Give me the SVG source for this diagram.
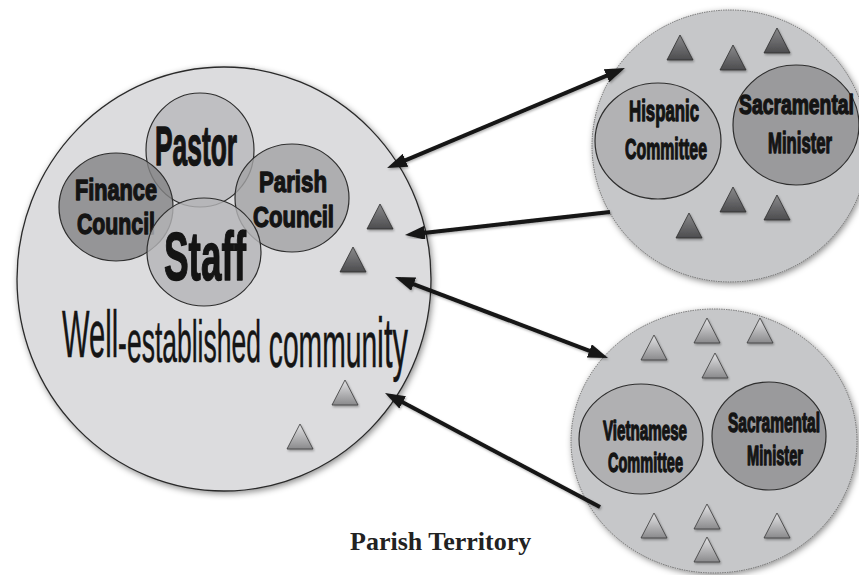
<svg xmlns="http://www.w3.org/2000/svg" xmlns:xlink="http://www.w3.org/1999/xlink" width="859" height="575" viewBox="0 0 859 575">
  <defs>
    <style>
      .bg { fill: #ffffff; }
      .community { fill: #dcdcde; stroke: #2a2a2a; stroke-width: 1.3; filter: url(#soft); }
      .group { fill: #c6c7c9; stroke: #6a6a6a; stroke-width: 1; stroke-dasharray: 1.4 1; filter: url(#soft); }
      .inner { stroke: #2e2e2e; stroke-width: 1.2; }
      .lbl { font-family: "Liberation Sans Narrow", "Liberation Sans", Arial, sans-serif; font-weight: bold; fill: #141414; stroke: #141414; stroke-width: 1.4; stroke-linejoin: round; }
      .big { font-family: "Liberation Sans Narrow", "Liberation Sans", Arial, sans-serif; fill: #151515; stroke: #151515; stroke-width: 0.5; }
      .title { font-family: "Liberation Serif", "Times New Roman", serif; font-weight: bold; font-size: 26px; fill: #222222; }
      .tri-dark { fill: url(#gDark); stroke: #2e2e2e; stroke-width: 0.8; filter: url(#triShadow); }
      .tri-light { fill: url(#gLight); stroke: #3a3a3a; stroke-width: 0.8; filter: url(#triShadow); }
      .arrow { stroke: #141414; stroke-width: 4; fill: none; filter: url(#arrowShadow); }
    </style>
    <filter id="soft" x="-10%" y="-10%" width="120%" height="120%">
      <feDropShadow dx="1.5" dy="2" stdDeviation="3" flood-color="#000" flood-opacity="0.45"/>
    </filter>
    <filter id="triShadow" x="-30%" y="-30%" width="160%" height="160%">
      <feDropShadow dx="1" dy="1.5" stdDeviation="1.2" flood-color="#000" flood-opacity="0.35"/>
    </filter>
    <filter id="arrowShadow" x="-10%" y="-20%" width="120%" height="140%">
      <feDropShadow dx="1" dy="1.5" stdDeviation="1.3" flood-color="#000" flood-opacity="0.3"/>
    </filter>
    <linearGradient id="gDark" x1="0" y1="0" x2="0" y2="1">
      <stop offset="0" stop-color="#8a8a8c"/>
      <stop offset="1" stop-color="#4c4c4e"/>
    </linearGradient>
    <linearGradient id="gLight" x1="0" y1="0" x2="0" y2="1">
      <stop offset="0" stop-color="#e4e4e6"/>
      <stop offset="1" stop-color="#8a8a8c"/>
    </linearGradient>
    <path id="tri" d="M13,0 L26,25 L0,25 Z"/>
    <marker id="head" viewBox="0 0 20 14" markerWidth="20" markerHeight="14" refX="8" refY="7" orient="auto-start-reverse" markerUnits="userSpaceOnUse">
      <path d="M0,0 L20,7 L0,14 Z" fill="#141414"/>
    </marker>
  </defs>

  <rect class="bg" x="0" y="0" width="859" height="575"/>

  <!-- established community -->
  <g id="community">
    <ellipse class="community" cx="224" cy="279" rx="207" ry="212"/>
    <text class="big" x="62" y="357" textLength="346" lengthAdjust="spacingAndGlyphs"><tspan font-size="66">Well</tspan><tspan font-size="60" y="362">-established</tspan><tspan font-size="64" y="367"> commun</tspan><tspan font-size="70" y="367">ity</tspan></text>
  </g>

  <g id="pastor">
    <ellipse class="inner" cx="200" cy="150" rx="54" ry="57" fill="#b8b8ba" fill-opacity="0.8"/>
    <text class="lbl" x="155" y="165" font-size="55" textLength="82" lengthAdjust="spacingAndGlyphs">Pastor</text>
  </g>

  <g id="finance-council">
    <ellipse class="inner" cx="116" cy="207" rx="57" ry="54" fill="#838385" fill-opacity="0.8"/>
    <text class="lbl" x="75" y="200" font-size="29" textLength="82" lengthAdjust="spacingAndGlyphs">Finance</text>
    <text class="lbl" x="77" y="234" font-size="30" textLength="78" lengthAdjust="spacingAndGlyphs">Council</text>
  </g>

  <g id="parish-council">
    <ellipse class="inner" cx="292" cy="198" rx="57" ry="54" fill="#a2a2a4" fill-opacity="0.8"/>
    <text class="lbl" x="259" y="192" font-size="30" textLength="68" lengthAdjust="spacingAndGlyphs">Parish</text>
    <text class="lbl" x="253" y="227" font-size="30" textLength="81" lengthAdjust="spacingAndGlyphs">Council</text>
  </g>

  <g id="staff">
    <ellipse class="inner" cx="204" cy="252" rx="57" ry="54" fill="#b4b4b6" fill-opacity="0.8"/>
    <text class="lbl" x="164" y="280" font-size="68" textLength="82" lengthAdjust="spacingAndGlyphs">Staff</text>
  </g>

  <!-- Hispanic community -->
  <g id="hispanic-community">
    <ellipse class="group" cx="730" cy="146" rx="138" ry="136"/>
  </g>

  <g id="hispanic-committee">
    <ellipse class="inner" cx="658" cy="141" rx="63" ry="58" fill="#b2b2b4"/>
    <text class="lbl" x="629" y="121" font-size="30" textLength="70" lengthAdjust="spacingAndGlyphs">Hispanic</text>
    <text class="lbl" x="625" y="159" font-size="30" textLength="82" lengthAdjust="spacingAndGlyphs">Committee</text>
  </g>

  <g id="sacramental-minister-1">
    <ellipse class="inner" cx="796" cy="125" rx="63" ry="60" fill="#9a9a9c"/>
    <text class="lbl" x="739" y="114" font-size="28" textLength="115" lengthAdjust="spacingAndGlyphs">Sacramental</text>
    <text class="lbl" x="768" y="153" font-size="29" textLength="64" lengthAdjust="spacingAndGlyphs">Minister</text>
  </g>

  <!-- Vietnamese community -->
  <g id="vietnamese-community">
    <ellipse class="group" cx="714" cy="441" rx="143" ry="132"/>
  </g>

  <g id="vietnamese-committee">
    <ellipse class="inner" cx="641" cy="439" rx="62" ry="55" fill="#b0b0b2"/>
    <text class="lbl" x="603" y="440" font-size="27" textLength="84" lengthAdjust="spacingAndGlyphs">Vietnamese</text>
    <text class="lbl" x="608" y="472" font-size="28" textLength="75" lengthAdjust="spacingAndGlyphs">Committee</text>
  </g>

  <g id="sacramental-minister-2">
    <ellipse class="inner" cx="769" cy="436" rx="57" ry="54" fill="#9a9a9c"/>
    <text class="lbl" x="728" y="432" font-size="27" textLength="92" lengthAdjust="spacingAndGlyphs">Sacramental</text>
    <text class="lbl" x="747" y="465" font-size="27" textLength="56" lengthAdjust="spacingAndGlyphs">Minister</text>
  </g>

  <!-- parishioners -->
  <g id="members">
    <use xlink:href="#tri" class="tri-dark" x="367" y="204"/>
    <use xlink:href="#tri" class="tri-dark" x="340" y="247"/>
    <use xlink:href="#tri" class="tri-light" x="332" y="380"/>
    <use xlink:href="#tri" class="tri-light" x="287" y="424"/>

    <use xlink:href="#tri" class="tri-dark" x="667" y="35"/>
    <use xlink:href="#tri" class="tri-dark" x="720" y="45"/>
    <use xlink:href="#tri" class="tri-dark" x="764" y="28"/>
    <use xlink:href="#tri" class="tri-dark" x="720" y="187"/>
    <use xlink:href="#tri" class="tri-dark" x="764" y="195"/>
    <use xlink:href="#tri" class="tri-dark" x="676" y="213"/>

    <use xlink:href="#tri" class="tri-light" x="641" y="335"/>
    <use xlink:href="#tri" class="tri-light" x="694" y="318"/>
    <use xlink:href="#tri" class="tri-light" x="747" y="318"/>
    <use xlink:href="#tri" class="tri-light" x="702" y="353"/>
    <use xlink:href="#tri" class="tri-light" x="641" y="513"/>
    <use xlink:href="#tri" class="tri-light" x="694" y="504"/>
    <use xlink:href="#tri" class="tri-light" x="764" y="513"/>
    <use xlink:href="#tri" class="tri-light" x="694" y="537"/>
  </g>

  <!-- connectors -->
  <g id="connectors">
    <line class="arrow" x1="398.1" y1="163.4" x2="613.9" y2="72.6" marker-start="url(#head)" marker-end="url(#head)"/>
    <line class="arrow" x1="610" y1="212" x2="416.9" y2="233.7" marker-end="url(#head)"/>
    <line class="arrow" x1="406.2" y1="281.3" x2="596.8" y2="353.7" marker-start="url(#head)" marker-end="url(#head)"/>
    <line class="arrow" x1="600" y1="507" x2="395.6" y2="398.6" marker-end="url(#head)"/>
  </g>

  <text class="title" x="350" y="550">Parish Territory</text>
</svg>
